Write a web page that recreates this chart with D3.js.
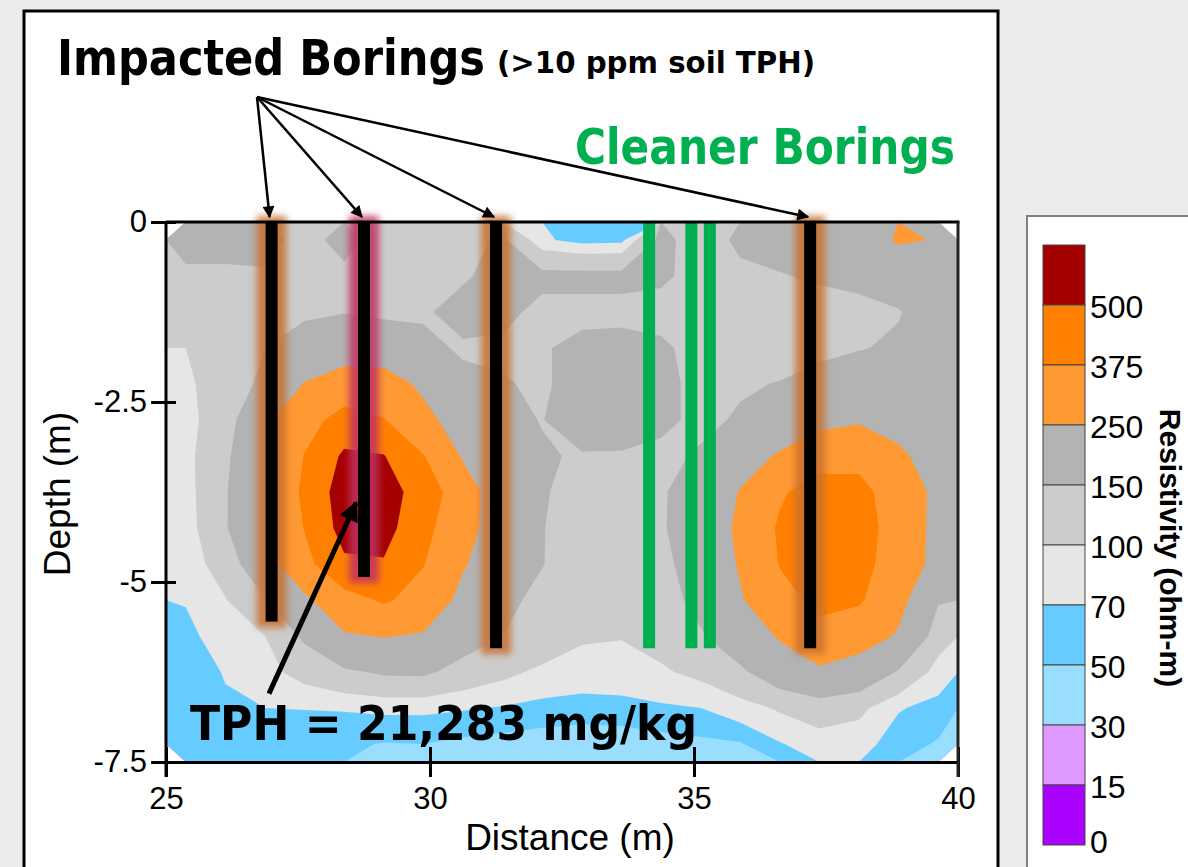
<!DOCTYPE html>
<html>
<head>
  <meta charset="utf-8">
  <title>Resistivity Section</title>
  <script src="https://d3js.org/d3.v7.min.js"></script>
  <style>
    body { margin: 0; background: #ececec; }
    svg { display: block; }
    .tick text { font-family: "Liberation Sans", Arial, sans-serif; font-size: 31px; fill: #000; }
    .bold-title { font-family: "DejaVu Sans Condensed", "DejaVu Sans", sans-serif; font-weight: bold; }
  </style>
</head>
<body>
  <svg id="chart" width="1188" height="867"></svg>
  <script>
    // Grid of resistivity read from the section (ohm-m)
    // columns = distance (m) of cell centres, rows = depth (m) of cell centres
    var gridDistances = [25.375, 26.125, 26.875, 27.625, 28.375, 29.125, 29.875, 30.625, 31.375, 32.125,
                         32.875, 33.625, 34.375, 35.125, 35.875, 36.625, 37.375, 38.125, 38.875, 39.625];
    var gridDepths = [-0.25, -0.75, -1.25, -1.75, -2.25, -2.75, -3.25, -3.75, -4.25, -4.75,
                      -5.25, -5.75, -6.25, -6.75, -7.25];
    var resistivity = [
      [170,170,165,135,165,130,130,130,160, 75, 60, 62,165,125,160,165,170,190,262,245],
      [140,140,145,140,140,135,135,145,165,165,165,165,160,130,140,148,155,160,170,180],
      [125,125,130,145,148,140,145,165,165,135,135,135,130,125,125,125,135,140,148,170],
      [100,115,150,165,200,190,160,145,140,145,165,170,160,130,125,130,140,148,155,180],
      [ 95,115,165,255,300,300,230,160,155,140,180,185,165,135,145,152,165,175,180,190],
      [ 90,120,230,330,420,380,280,200,165,148,185,180,160,140,155,190,220,240,210,185],
      [ 88,140,215,380,520,505,380,240,175,155,145,145,140,155,210,260,320,330,270,200],
      [ 85,145,230,400,560,550,450,300,190,155,130,130,145,175,255,360,430,420,300,230],
      [ 82,145,235,380,545,545,410,290,190,152,125,125,145,180,270,390,440,430,320,220],
      [ 80,120,200,340,480,490,380,260,180,152,120,120,140,170,260,380,430,420,310,220],
      [ 72, 98,148,230,330,390,330,220,165,135,115,115,130,165,240,340,400,390,280,155],
      [ 62, 85,100,160,240,255,240,180,150,130,105,102,115,145,190,260,345,300,240,120],
      [ 55, 72, 88,115,140,158,160,130,110, 92, 85, 85, 95,110,140,190,230,200,145, 85],
      [ 58, 66, 70, 71, 72, 75, 75, 72, 68, 62, 60, 62, 66, 70, 85,105,120,110, 72, 62],
      [ 60, 58, 56, 54, 53, 49, 50, 45, 42, 40, 38, 38, 42, 45, 48, 68, 85, 80, 58, 48]
    ];

    // Contour levels and their fill colours (band above each level)
    var levels = [0, 15, 30, 50, 70, 100, 150, 250, 375, 500];
    var levelColors = ["#aa00ff", "#dd99ff", "#99ddff", "#66ccff", "#e6e6e6",
                       "#cccccc", "#b3b3b3", "#ff9933", "#ff8000", "#a50000"];

    // Borings
    var impactedDistances = [27.0, 28.75, 31.25, 37.2];
    var impactedBottoms = [-5.55, -4.93, -5.92, -5.92];
    var impactedHalos = ["#c8702e", "#c03060", "#c8702e", "#c8702e"];
    var cleanerDistances = [34.15, 34.95, 35.3];
    var cleanerBottoms = [-5.92, -5.92, -5.92];

    // Axis ticks
    var distanceTicks = [25, 30, 35, 40];
    var depthTicks = [0, -2.5, -5, -7.5];

    var svg = d3.select("#chart");

    // White slide panels
    svg.append("rect")
      .attr("x", 24).attr("y", 11).attr("width", 974).attr("height", 880)
      .attr("fill", "#fff").attr("stroke", "#000").attr("stroke-width", 3);
    svg.append("rect")
      .attr("x", 1027).attr("y", 216).attr("width", 180).attr("height", 680)
      .attr("fill", "#fff").attr("stroke", "#808080").attr("stroke-width", 2);

    // Scales
    var x = d3.scaleLinear().domain([25, 40]).range([166, 958]);
    var y = d3.scaleLinear().domain([0, -7.5]).range([222, 762]);

    var defs = svg.append("defs");
    defs.append("clipPath").attr("id", "plot-clip")
      .append("rect")
      .attr("x", x(25)).attr("y", y(0))
      .attr("width", x(40) - x(25)).attr("height", y(-7.5) - y(0));
    defs.append("filter").attr("id", "glow")
      .attr("x", "-60%").attr("y", "-10%").attr("width", "220%").attr("height", "120%")
      .append("feGaussianBlur").attr("stdDeviation", 3.5);

    function addArrowHead(id, w, h) {
      defs.append("marker")
        .attr("id", id)
        .attr("viewBox", "0 0 10 10")
        .attr("refX", 9).attr("refY", 5)
        .attr("markerUnits", "userSpaceOnUse")
        .attr("markerWidth", w).attr("markerHeight", h)
        .attr("orient", "auto")
        .append("path").attr("d", "M0,0L10,5L0,10z").attr("fill", "#000");
    }
    addArrowHead("head-thin", 17, 12);
    addArrowHead("head-thick", 24, 20);

    // Filled contours
    var nCols = gridDistances.length, nRows = gridDepths.length;
    var stepX = gridDistances[1] - gridDistances[0];
    var stepY = gridDepths[0] - gridDepths[1];
    var x0 = gridDistances[0] - stepX / 2;
    var y0 = gridDepths[0] + stepY / 2;

    var contours = d3.contours()
      .size([nCols, nRows])
      .thresholds(levels)(resistivity.flat());

    var projection = d3.geoTransform({
      point: function(px, py) {
        this.stream.point(x(x0 + px * stepX), y(y0 - py * stepY));
      }
    });
    var path = d3.geoPath(projection);

    var plot = svg.append("g").attr("clip-path", "url(#plot-clip)");
    plot.selectAll("path.band")
      .data(contours)
      .enter().append("path")
      .attr("class", "band")
      .attr("d", path)
      .attr("fill", function(d, i) { return levelColors[i]; });

    // Boring halos and bars
    var impacted = impactedDistances.map(function(d, i) {
      return { dist: d, bottom: impactedBottoms[i], halo: impactedHalos[i] };
    });
    var marks = svg.append("g");
    marks.selectAll("rect.halo")
      .data(impacted)
      .enter().append("rect")
      .attr("class", "halo")
      .attr("x", function(d) { return x(d.dist) - 15; })
      .attr("y", y(0) - 6)
      .attr("width", 30)
      .attr("height", function(d) { return y(d.bottom) - y(0) + 12; })
      .attr("fill", function(d) { return d.halo; })
      .attr("opacity", 0.85)
      .attr("filter", "url(#glow)");

    marks.selectAll("rect.cleaner")
      .data(cleanerDistances)
      .enter().append("rect")
      .attr("class", "cleaner")
      .attr("x", function(d) { return x(d) - 6; })
      .attr("y", y(0))
      .attr("width", 12)
      .attr("height", function(d, i) { return y(cleanerBottoms[i]) - y(0); })
      .attr("fill", "#00b050");

    marks.selectAll("rect.impacted")
      .data(impacted)
      .enter().append("rect")
      .attr("class", "impacted")
      .attr("x", function(d) { return x(d.dist) - 6; })
      .attr("y", y(0))
      .attr("width", 12)
      .attr("height", function(d) { return y(d.bottom) - y(0); })
      .attr("fill", "#000");

    // Axes with crossing ticks
    var yAxis = svg.append("g")
      .attr("transform", "translate(" + x(25) + ",0)")
      .call(d3.axisLeft(y).tickValues(depthTicks)
        .tickFormat(function(d) { return String(d); })
        .tickSize(15).tickSizeOuter(0).tickPadding(4));
    yAxis.selectAll(".tick line").attr("x2", -15).attr("x1", 10);
    var xAxis = svg.append("g")
      .attr("transform", "translate(0," + y(-7.5) + ")")
      .call(d3.axisBottom(x).tickValues(distanceTicks).tickSize(15).tickSizeOuter(0).tickPadding(10));
    xAxis.selectAll(".tick line").attr("y1", -15);
    svg.selectAll(".domain, .tick line").attr("stroke", "#000").attr("stroke-width", 3);
    yAxis.select(".domain").attr("d", "M0," + y(0) + "V" + (y(-7.5) + 15));

    // Top and right frame of the section
    svg.append("line")
      .attr("x1", x(25)).attr("x2", x(40) + 1.5).attr("y1", y(0)).attr("y2", y(0))
      .attr("stroke", "#000").attr("stroke-width", 3);
    svg.append("line")
      .attr("x1", x(40)).attr("x2", x(40)).attr("y1", y(0)).attr("y2", y(-7.5) + 15)
      .attr("stroke", "#222").attr("stroke-width", 3);

    // Axis titles
    svg.append("text")
      .attr("x", (x(25) + x(40)) / 2 + 8).attr("y", 850)
      .attr("text-anchor", "middle")
      .style("font-family", "Liberation Sans, Arial, sans-serif").style("font-size", "37px")
      .text("Distance (m)");
    svg.append("text")
      .attr("transform", "translate(70," + 494 + ") rotate(-90)")
      .attr("text-anchor", "middle")
      .style("font-family", "Liberation Sans, Arial, sans-serif").style("font-size", "37px")
      .text("Depth (m)");

    // Annotation arrows
    var arrowFrom = [257, 97];
    svg.selectAll("line.pointer")
      .data(impacted)
      .enter().append("line")
      .attr("class", "pointer")
      .attr("x1", arrowFrom[0]).attr("y1", arrowFrom[1])
      .attr("x2", function(d) { return x(d.dist) - 2; })
      .attr("y2", y(0) - 5)
      .attr("stroke", "#000").attr("stroke-width", 2.5)
      .attr("marker-end", "url(#head-thin)");

    var tphFrom = [26.95, -6.55], tphTo = [28.6, -3.9];
    svg.append("line")
      .attr("x1", x(tphFrom[0])).attr("y1", y(tphFrom[1]))
      .attr("x2", x(tphTo[0])).attr("y2", y(tphTo[1]))
      .attr("stroke", "#000").attr("stroke-width", 5)
      .attr("marker-end", "url(#head-thick)");

    // Titles and callouts
    svg.append("text").attr("class", "bold-title")
      .attr("x", 57).attr("y", 75).attr("textLength", 428).attr("lengthAdjust", "spacingAndGlyphs")
      .style("font-size", "49px").text("Impacted Borings");
    svg.append("text").attr("class", "bold-title")
      .attr("x", 497).attr("y", 73).attr("textLength", 318).attr("lengthAdjust", "spacingAndGlyphs")
      .style("font-size", "31px").text("(>10 ppm soil TPH)");
    svg.append("text").attr("class", "bold-title")
      .attr("x", 575).attr("y", 164).attr("textLength", 380).attr("lengthAdjust", "spacingAndGlyphs")
      .style("font-size", "50px").attr("fill", "#00b050").text("Cleaner Borings");
    svg.append("text").attr("class", "bold-title")
      .attr("x", 190).attr("y", 740).attr("textLength", 507).attr("lengthAdjust", "spacingAndGlyphs")
      .style("font-size", "48px").text("TPH = 21,283 mg/kg");

    // Colour bar legend
    var legendTop = 245, segH = 60, legendX = 1043, legendW = 42;
    var legendColors = levelColors.slice().reverse();
    var legendLabels = levels.slice(1).reverse().concat([levels[0]]);
    svg.selectAll("rect.swatch")
      .data(legendColors)
      .enter().append("rect")
      .attr("class", "swatch")
      .attr("x", legendX)
      .attr("y", function(d, i) { return legendTop + i * segH; })
      .attr("width", legendW)
      .attr("height", segH)
      .attr("fill", function(d) { return d; })
      .attr("stroke", "#444").attr("stroke-width", 1);
    svg.selectAll("text.swatch-label")
      .data(legendLabels)
      .enter().append("text")
      .attr("class", "swatch-label")
      .attr("x", legendX + legendW + 5)
      .attr("y", function(d, i) { return legendTop + (i + 1) * segH + (i === legendLabels.length - 1 ? 8 : 13); })
      .style("font-family", "Liberation Sans, Arial, sans-serif").style("font-size", "32px")
      .text(function(d) { return d; });
    svg.append("text")
      .attr("transform", "translate(1160,548) rotate(90)")
      .attr("text-anchor", "middle")
      .style("font-family", "Liberation Sans, Arial, sans-serif").style("font-size", "30px")
      .style("font-weight", "bold")
      .text("Resistivity (ohm-m)");
  </script>
</body>
</html>
